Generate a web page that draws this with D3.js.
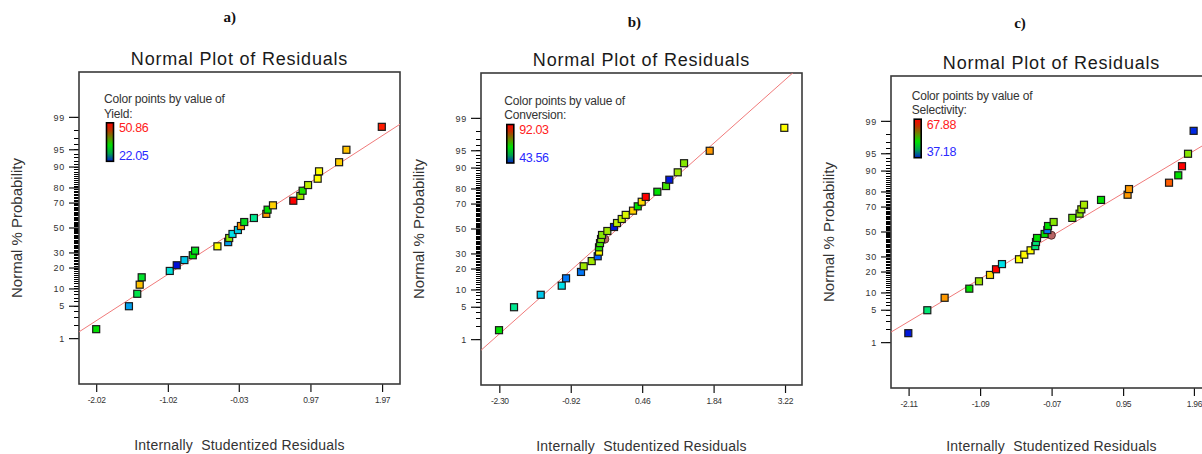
<!DOCTYPE html>
<html><head><meta charset="utf-8">
<script src="https://cdn.jsdelivr.net/npm/d3@7"></script>
<style>
body{margin:0;background:#fff}
svg{display:block}
text{font-family:"Liberation Sans",Arial,sans-serif}
</style>
</head><body>
<svg id="chart" width="1202" height="454"></svg>
<script>
// ---------------- DATA ----------------
const probPct = [1.67,5,8.33,11.67,15,18.33,21.67,25,28.33,31.67,35,38.33,41.67,45,48.33,
                 51.67,55,58.33,61.67,65,68.33,71.67,75,78.33,81.67,85,88.33,91.67,95,98.33];

const yieldResid = [-2.02,-1.563,-1.447,-1.413,-1.385,-0.993,-0.896,-0.789,-0.672,-0.640,
                    -0.328,-0.178,-0.164,-0.118,-0.042,0.000,0.046,0.181,0.354,0.372,
                    0.447,0.731,0.829,0.861,0.937,1.071,1.090,1.370,1.472,1.966];
const yieldVal = [36.46,27.81,35.01,45.67,35.59,30.69,22.63,29.25,36.46,35.88,
                  42.79,27.81,39.34,30.12,29.54,47.40,35.88,33.57,47.40,36.46,
                  45.10,50.86,40.20,37.03,40.78,42.79,42.79,45.10,45.67,50.28];

const convResid = [-2.306,-2.016,-1.500,-1.094,-1.011,-0.722,-0.670,-0.515,-0.399,-0.374,
                   -0.374,-0.355,-0.335,-0.316,-0.213,-0.084,-0.026,0.065,0.142,0.283,
                   0.374,0.451,0.529,0.753,0.921,0.985,1.147,1.269,1.765,3.206];
const convVal = [67.80,62.95,55.68,57.13,50.83,50.83,73.61,73.61,49.38,78.46,
                 68.76,70.22,72.64,72.64,73.61,45.01,75.07,75.07,76.52,82.34,
                 67.80,81.37,92.03,67.80,70.22,45.01,73.61,72.64,86.21,78.46];

const selResid = [-2.114,-1.843,-1.596,-1.244,-1.106,-0.949,-0.863,-0.778,-0.535,-0.460,
                  -0.370,-0.303,-0.293,-0.278,-0.170,-0.131,-0.121,-0.041,0.225,0.329,
                  0.354,0.392,0.635,1.014,1.034,1.605,1.737,1.790,1.876,1.956];
const selVal = [38.10,50.07,64.20,52.53,56.21,61.13,67.88,45.78,59.28,59.59,
                59.28,50.07,50.07,52.53,52.53,41.79,52.53,55.60,54.99,55.60,
                56.21,56.52,52.53,64.20,64.20,65.73,52.53,67.88,55.60,38.72];

// extra highlighted (circle) points: [residual, percent]
const convExtra = [[-0.261, 41.5]];
const selExtra  = [[-0.073, 47.3]];

const panelTags = ["a)","b)","c)"];
const responseNames = ["Yield:","Conversion:","Selectivity:"];
const respMin = [22.05, 43.56, 37.18];
const respMax = [50.86, 92.03, 67.88];
const xTickVals = [[-2.02,-1.02,-0.03,0.97,1.97],[-2.30,-0.92,0.46,1.84,3.22],[-2.11,-1.09,-0.07,0.95,1.96]];
const xDomains = [[-2.26,2.22],[-2.654,3.548],[-2.361,2.218]];
const lineMu = [-0.019,-0.02,0.026];
const lineSigma = [1.026,1.033,1.134];
const yMajor = [1,5,10,20,30,50,70,80,90,95,99];

// ---------------- LAYOUT ----------------
const layout = [
  {x:79,  y:72, tag:[229.7,22], leg:[104,103.3], xt:66},
  {x:481, y:73, tag:[634.3,27], leg:[504.3,105], xt:66},
  {x:891, y:76, tag:[1020,28],  leg:[911.7,99.7], xt:63}
];
const W = 321, H = 312, ZMAX = 3.28;

// inverse normal CDF (Acklam)
function probit(p){
  const a=[-3.969683028665376e+01,2.209460984245205e+02,-2.759285104469687e+02,1.383577518672690e+02,-3.066479806614716e+01,2.506628277459239e+00];
  const b=[-5.447609879822406e+01,1.615858368580409e+02,-1.556989798598866e+02,6.680131188771972e+01,-1.328068155288572e+01];
  const c=[-7.784894002430293e-03,-3.223964580411365e-01,-2.400758277161838e+00,-2.549732539343734e+00,4.374664141464968e+00,2.938163982698783e+00];
  const d=[7.784695709041462e-03,3.224671290700398e-01,2.445134137142996e+00,3.754408661907416e+00];
  const pl=0.02425, ph=1-pl; let q,r;
  if(p<pl){q=Math.sqrt(-2*Math.log(p));return (((((c[0]*q+c[1])*q+c[2])*q+c[3])*q+c[4])*q+c[5])/((((d[0]*q+d[1])*q+d[2])*q+d[3])*q+1);}
  if(p<=ph){q=p-0.5;r=q*q;return (((((a[0]*r+a[1])*r+a[2])*r+a[3])*r+a[4])*r+a[5])*q/(((((b[0]*r+b[1])*r+b[2])*r+b[3])*r+b[4])*r+1);}
  q=Math.sqrt(-2*Math.log(1-p));return -(((((c[0]*q+c[1])*q+c[2])*q+c[3])*q+c[4])*q+c[5])/((((d[0]*q+d[1])*q+d[2])*q+d[3])*q+1);
}

const colorStops = [0,0.12,0.2,0.28,0.4,0.5,0.62,0.72,0.8,0.88,0.94,1];
const colorRange = ["#0000d0","#0060ff","#00a0f0","#00e0e8","#00e890","#00e000","#a0e800","#ffff00","#ffd000","#ff9900","#ff5000","#ff0000"];

const svg = d3.select("#chart");
const defs = svg.append("defs");
const grad = defs.append("linearGradient").attr("id","legGrad").attr("x1",0).attr("x2",0).attr("y1",0).attr("y2",1);
[[0,"#ff0000"],[0.18,"#c03000"],[0.4,"#609000"],[0.58,"#00e000"],[0.8,"#00a050"],[1,"#0020d0"]]
  .forEach(s=>grad.append("stop").attr("offset",s[0]).attr("stop-color",s[1]));

const datasets = [
  {resid:yieldResid, val:yieldVal, extra:[]},
  {resid:convResid, val:convVal, extra:convExtra},
  {resid:selResid, val:selVal, extra:selExtra}
];

datasets.forEach((ds,i)=>{
  const L = layout[i];
  const g = svg.append("g").attr("transform",`translate(${L.x},${L.y})`);
  const xs = d3.scaleLinear().domain(xDomains[i]).range([0,W]);
  const zs = d3.scaleLinear().domain([-ZMAX,ZMAX]).range([H,0]);
  const yp = p => zs(probit(p/100));
  const col = d3.scaleLinear()
     .domain(colorStops.map(s=>respMin[i]+s*(respMax[i]-respMin[i])))
     .range(colorRange).clamp(true);

  defs.append("clipPath").attr("id","clip"+i).append("rect").attr("width",W).attr("height",H);

  // panel tag
  svg.append("text").attr("x",L.tag[0]).attr("y",L.tag[1]).attr("text-anchor","middle")
     .style("font-family","'Liberation Serif','Times New Roman',serif").style("font-weight","bold")
     .style("font-size","15px").attr("fill","#111").text(panelTags[i]);

  // title
  g.append("text").attr("x",W/2).attr("y",-7).attr("text-anchor","middle")
   .style("font-size","18px").attr("fill","#1a1a1a").style("letter-spacing","0.8px").text("Normal Plot of Residuals");

  // y ticks (minor every 1%, major labeled)
  const minor = d3.range(1,100);
  g.selectAll(".mt").data(minor).enter().append("line")
   .attr("x1",-5).attr("x2",0).attr("y1",d=>yp(d)).attr("y2",d=>yp(d))
   .attr("stroke","#000").attr("stroke-width",1).attr("shape-rendering","crispEdges");
  g.selectAll(".Mt").data(yMajor).enter().append("line")
   .attr("x1",-10).attr("x2",0).attr("y1",d=>yp(d)).attr("y2",d=>yp(d))
   .attr("stroke","#111").attr("stroke-width",1.2);
  g.selectAll(".yl").data(yMajor).enter().append("text")
   .attr("x",-14).attr("y",d=>yp(d)).attr("dy","0.35em").attr("text-anchor","end")
   .style("font-size","9px").style("letter-spacing","0.8px").attr("fill","#333").text(d=>d);

  // x axis
  const xa = d3.axisBottom(xs).tickValues(xTickVals[i]).tickFormat(d=>d.toFixed(2)).tickSize(8).tickSizeOuter(0);
  const xg = g.append("g").attr("transform",`translate(0,${H})`).call(xa);
  xg.select(".domain").remove();
  xg.selectAll("line").attr("stroke","#111").attr("stroke-width",1.2);
  xg.selectAll("text").attr("y",13).style("font-size","8.5px").style("letter-spacing","-0.3px").attr("fill","#333")
    .style("font-family","'Liberation Sans',Arial,sans-serif");

  // box
  g.append("rect").attr("width",W).attr("height",H).attr("fill","none").attr("stroke","#3a3a3a").attr("stroke-width",1.6);

  // axis titles
  g.append("text").attr("transform",`translate(${-62},${H/2}) rotate(-90)`).attr("text-anchor","middle")
   .attr("dy","0.35em").style("font-size","15px").attr("fill","#333").text("Normal % Probability");
  g.append("text").attr("x",W/2).attr("y",H+L.xt).attr("text-anchor","middle").style("white-space","pre")
   .style("font-size","14px").style("letter-spacing","0.2px").attr("fill","#333").text("Internally  Studentized Residuals");

  // fit line
  const xd = xDomains[i];
  g.append("line").attr("clip-path",`url(#clip${i})`)
   .attr("x1",xs(xd[0])).attr("y1",zs((xd[0]-lineMu[i])/lineSigma[i]))
   .attr("x2",xs(xd[1])).attr("y2",zs((xd[1]-lineMu[i])/lineSigma[i]))
   .attr("stroke","#f07a7a").attr("stroke-width",1);

  // legend
  const lx = L.leg[0]-L.x, ly = L.leg[1]-L.y;
  g.append("text").attr("x",lx).attr("y",ly).style("font-size","12px").style("letter-spacing","-0.2px")
   .attr("fill","#333").text("Color points by value of");
  g.append("text").attr("x",lx).attr("y",ly+14.4).style("font-size","12px").style("letter-spacing","-0.2px")
   .attr("fill","#333").text(responseNames[i]);
  g.append("rect").attr("x",lx+2.5).attr("y",ly+19.5).attr("width",7).attr("height",38.5)
   .attr("fill","url(#legGrad)").attr("stroke","#000").attr("stroke-width",1.6);
  g.append("text").attr("x",lx+15).attr("y",ly+29).style("font-size","12.5px").style("letter-spacing","-0.4px")
   .attr("fill","#ff2020").text(respMax[i].toFixed(2));
  g.append("text").attr("x",lx+15).attr("y",ly+56.5).style("font-size","12.5px").style("letter-spacing","-0.4px")
   .attr("fill","#2a2aff").text(respMin[i].toFixed(2));

  // extra circle markers
  g.selectAll(".ex").data(ds.extra).enter().append("circle")
   .attr("cx",d=>xs(d[0])).attr("cy",d=>yp(d[1])).attr("r",4)
   .attr("fill","#b86464").attr("stroke","#5a3030").attr("stroke-width",1);

  // points
  const pts = ds.resid.map((r,k)=>({r, p:probPct[k], v:ds.val[k]}));
  g.selectAll(".pt").data(pts).enter().append("rect")
   .attr("x",d=>xs(d.r)-3.5).attr("y",d=>yp(d.p)-3.5).attr("width",7).attr("height",7)
   .attr("fill",d=>col(d.v)).attr("stroke","#1a1a1a").attr("stroke-width",1.2);
});
</script>
</body></html>
